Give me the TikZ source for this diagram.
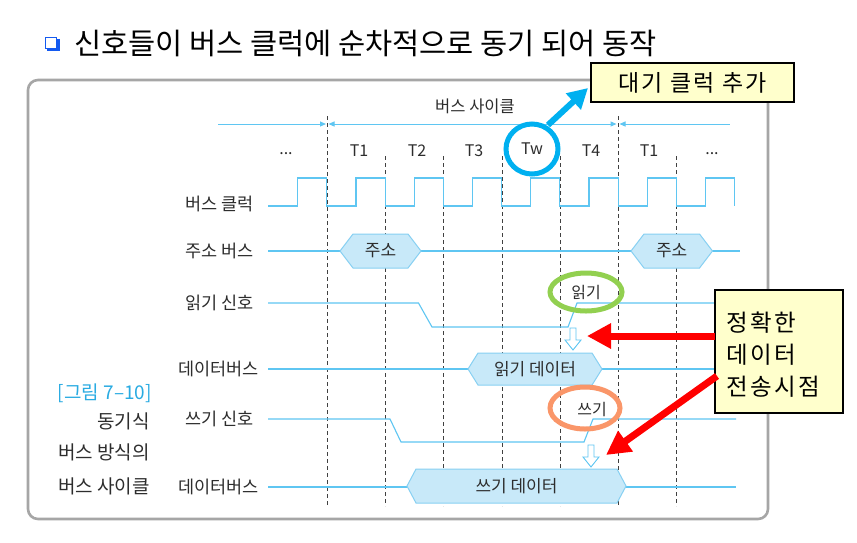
\documentclass[tikz,border=0pt]{standalone}
\usepackage{fontspec}
\setmainfont{Noto Sans CJK KR}
\newfontfamily\memofont[LetterSpace=10]{Noto Sans CJK KR}
\usetikzlibrary{arrows.meta,calc}
\definecolor{sig}{RGB}{95,198,242}
\definecolor{hexfill}{RGB}{200,233,249}
\definecolor{hexdraw}{RGB}{135,208,242}
\definecolor{txt}{RGB}{45,45,45}
\definecolor{tw}{RGB}{0,176,240}
\definecolor{grn}{RGB}{146,208,80}
\definecolor{org}{RGB}{250,150,105}
\definecolor{memo}{RGB}{255,255,204}
\definecolor{cap}{RGB}{41,171,226}
\definecolor{bul}{RGB}{20,90,240}
\tikzset{
  sigline/.style={draw=sig,line width=1.1pt},
  tick/.style={draw=black!75,dashed,dash pattern=on 4pt off 3pt,line width=0.8pt},
  rowlabel/.style={anchor=east,inner sep=0,text=txt,font=\fontsize{17.5}{19}\selectfont},
  tlabel/.style={inner sep=0,text=txt,font=\fontsize{16}{18}\selectfont},
  hexlabel/.style={inner sep=0,text=txt,font=\fontsize{17}{19}\selectfont},
  captext/.style={anchor=east,inner sep=0,text=txt,font=\fontsize{19}{21}\selectfont},
  hexbox/.style={fill=hexfill,draw=hexdraw,line width=1pt},
  memobox/.style={fill=memo,draw=black,line width=1.1pt},
  redarrow/.style={draw=red,line width=7pt,-{Triangle[length=24pt,width=24pt]}},
  hollow/.style={fill=white,draw=sig,line width=0.9pt},
  dimarrow/.style={draw=sig,line width=1pt},
}
\newcommand{\hexshape}[5]{% x1 x2 y halfheight slope
  \path[hexbox] (#1,#3) -- (#1+#5,#3-#4) -- (#2-#5,#3-#4) -- (#2,#3) -- (#2-#5,#3+#4) -- (#1+#5,#3+#4) -- cycle;}
\newcommand{\hollowdown}[3]{% x ytop ybottom
  \path[hollow] (#1-3,#2) -- (#1+3,#2) -- (#1+3,#3-10) -- (#1+8,#3-10) -- (#1,#3) -- (#1-8,#3-10) -- (#1-3,#3-10) -- cycle;}
\begin{document}
\begin{tikzpicture}[x=1pt,y=-1pt]
\useasboundingbox (0,0) rectangle (857,542);
\fill[white] (0,0) rectangle (857,542);

% title
\fill[bul] (47,39) rectangle (59.5,51);
\filldraw[fill=white,draw=bul,line width=1pt] (45.5,37.5) rectangle (56,48);
\node[anchor=west,inner sep=0,font=\fontsize{29.5}{32}\selectfont] (title) at (74,43) {신호들이 버스 클럭에 순차적으로 동기 되어 동작};

% frame
\draw[black!35,line width=2.6pt,rounded corners=10pt] (28,80) rectangle (768,519);

% bus cycle dimension
\node[inner sep=0,text=txt,font=\fontsize{16.5}{18}\selectfont] (cyc) at (475,106) {버스 사이클};
\coordinate (c0) at (218,124);
\coordinate (c1) at (326,124);
\coordinate (c2) at (328.5,124);
\coordinate (c3) at (616.5,124);
\coordinate (c4) at (619.5,124);
\coordinate (c5) at (730,124);
\draw[dimarrow,-{Triangle[length=6pt,width=5pt]}] (c0) -- (c1);
\draw[dimarrow,{Triangle[length=6pt,width=5pt]}-{Triangle[length=6pt,width=5pt]}] (c2) -- (c3);
\draw[dimarrow,{Triangle[length=6pt,width=5pt]}-] (c4) -- (c5);

% dashed ticks
\foreach \x in {327,618} \draw[tick] (\x,116) -- (\x,506);
\foreach \x in {385,443,502,560,676} \draw[tick] (\x,156) -- (\x,506);

% T labels
\node[tlabel] (d1) at (286,154) {...};
\node[tlabel] (t1) at (359,151) {T1};
\node[tlabel] (t2) at (417,151) {T2};
\node[tlabel] (t3) at (474,151) {T3};
\node[tlabel] (tw) at (532,149) {Tw};
\node[tlabel] (t4) at (591,151) {T4};
\node[tlabel] (t1b) at (649,151) {T1};
\node[tlabel] (d2) at (712,154) {...};

% row labels
\node[rowlabel] (lclk) at (254,204) {버스 클럭};
\node[rowlabel] (ladr) at (254,251) {주소 버스};
\node[rowlabel] (lrd) at (254,303) {읽기 신호};
\node[rowlabel] (ldb1) at (259,369) {데이터버스};
\node[rowlabel] (lwr) at (254,419) {쓰기 신호};
\node[rowlabel] (ldb2) at (259,487) {데이터버스};

% caption
\node[captext,text=cap] (cap1) at (152,393) {[그림 7–10]};
\node[captext] (cap2) at (150,421) {동기식};
\node[captext] (cap3) at (150,452) {버스 방식의};
\node[captext] (cap4) at (150,486) {버스 사이클};

% clock
\draw[sigline] (268,206) -- (297.8,206)
  \foreach \r in {297.8,356,414.2,472.5,530.8,589,647.2,705.5} {
    -- (\r,206) -- (\r,178) -- (\r+29.1,178) -- (\r+29.1,206) }
  ;

% address bus
\draw[sigline] (268,251) -- (740,251);
\hexshape{340}{421}{251}{17}{13}
\hexshape{631}{712.5}{251}{17}{13}
\node[hexlabel] (a1) at (380.5,251) {주소};
\node[hexlabel] (a2) at (671.7,251) {주소};

% read signal
\draw[sigline] (268,303) -- (418.5,303) -- (432,327) -- (568,327) -- (577,303) -- (736,303);
% read data bus
\draw[sigline] (268,369) -- (736,369);
\hexshape{468}{602}{369}{16}{10}
\node[hexlabel] (rd) at (535,369) {읽기 데이터};
\hollowdown{573}{328}{350}

% write signal
\draw[sigline] (268,419) -- (390,419) -- (401,442) -- (584,442) -- (593,419) -- (736,419);
% write data bus
\draw[sigline] (268,487) -- (736,487);
\hexshape{407}{626}{486}{17}{9}
\node[hexlabel] (wd) at (516.5,486) {쓰기 데이터};
\hollowdown{591}{445}{467}

% highlight ellipses
\draw[tw,line width=5pt] (tw) ellipse [x radius=26pt,y radius=25pt];
\node[tlabel] (rdk) at (586,292) {읽기};
\draw[grn,line width=5pt] (rdk) ellipse [x radius=36pt,y radius=19pt];
\node[tlabel] (wrk) at (592,409) {쓰기};
\draw[org,line width=5pt] (585,408) ellipse [x radius=35pt,y radius=21pt];

% memo: wait clock
\node[memobox,minimum width=203pt,minimum height=39pt,inner sep=0,font=\memofont\fontsize{23}{25}\selectfont] (memo1) at (692.5,82.5) {대기 클럭 추가};
\coordinate (twtip) at (588,88);
\coordinate (twbase) at (548,125);
\draw[tw,line width=6pt,-{Triangle[length=20pt,width=21pt]}] (twbase) -- (twtip);

% memo: data transfer point
\node[memobox,minimum width=128pt,minimum height=123pt,inner sep=0] (memo2) at (779,351.5) {};
\node[anchor=west,inner sep=0,align=left,font=\memofont\fontsize{23.5}{32}\selectfont] (memo2t) at (726,355) {정확한\\데이터\\전송시점};
\coordinate (r1s) at (715,336);
\coordinate (r1e) at (587,336);
\coordinate (r2s) at (717,376);
\coordinate (r2e) at (606,455);
\draw[redarrow] (r1s) -- (r1e);
\draw[redarrow] (r2s) -- (r2e);
\end{tikzpicture}
\end{document}
